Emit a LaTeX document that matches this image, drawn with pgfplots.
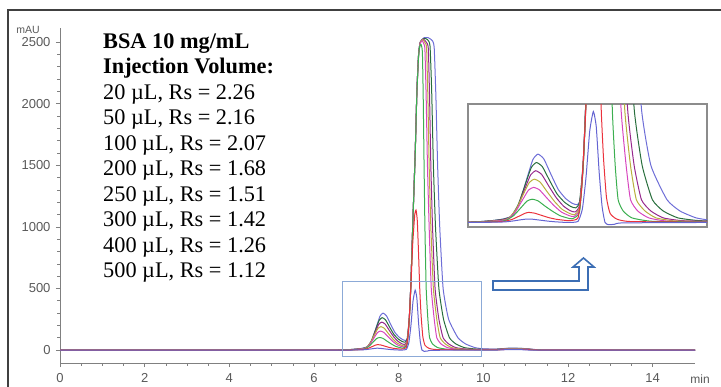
\documentclass[border=0pt]{standalone}
\usepackage{fontspec}
\setmainfont{Liberation Serif}
\newfontfamily\arial{Liberation Sans}
\usepackage{pgfplots}
\usepackage{pgfplotstable}
\pgfplotsset{compat=1.18}
\definecolor{c20}{RGB}{100,100,210}
\definecolor{c50}{RGB}{235,50,60}
\definecolor{c100}{RGB}{60,175,80}
\definecolor{c200}{RGB}{215,70,190}
\definecolor{c250}{RGB}{185,175,60}
\definecolor{c300}{RGB}{150,40,140}
\definecolor{c400}{RGB}{40,110,60}
\definecolor{c500}{RGB}{110,110,215}
\definecolor{boxblue}{RGB}{140,170,215}
\definecolor{arrowblue}{RGB}{60,110,180}

\pgfplotstableread{
x y
0 0
3 0
6.0 0
6.5 0
6.8 3
7.0 8
7.15 15
7.28 30
7.38 90
7.48 195
7.56 276
7.63 300
7.71 279
7.81 210
7.91 144
8.01 105
8.10 84
8.17 78
8.21 100
8.25 260
8.29 560
8.34 1100
8.39 1600
8.43 2100
8.47 2400
8.51 2500
8.60 2535
8.70 2535
8.80 2510
8.84 2450
8.88 2050
8.92 1500
8.97 1000
9.05 500
9.18 250
9.40 100
9.58 50
9.80 20
10.0 10
10.3 8
10.6 15
10.9 14
11.2 5
11.6 1
15 0
}\tfive

\pgfplotstableread{
x y
0 0
3 0
6.0 0
6.5 0
6.8 3
7.0 8
7.15 14
7.26 26
7.36 79
7.46 171
7.54 242
7.61 263
7.69 245
7.79 184
7.89 126
7.99 90
8.08 70
8.15 64
8.20 90
8.25 260
8.29 560
8.34 1100
8.39 1600
8.43 2100
8.47 2400
8.51 2500
8.60 2530
8.68 2520
8.74 2470
8.78 2100
8.82 1500
8.87 1000
8.95 500
9.06 250
9.20 100
9.35 50
9.55 20
9.8 9
10.0 6
10.3 6
10.6 14
10.9 13
11.2 4
11.6 1
15 0
}\tfour

\pgfplotstableread{
x y
0 0
3 0
6.0 0
6.5 0
6.8 2
7.0 7
7.15 12
7.25 23
7.35 68
7.45 148
7.53 209
7.60 227
7.68 211
7.78 159
7.88 109
7.98 72
8.07 52
8.14 46
8.20 75
8.25 250
8.29 555
8.34 1100
8.39 1600
8.43 2100
8.47 2400
8.51 2500
8.58 2525
8.65 2500
8.70 2450
8.73 2050
8.76 1500
8.80 1000
8.86 500
8.95 250
9.05 100
9.18 50
9.35 20
9.6 8
10.0 5
10.3 5
10.6 12
10.9 12
11.2 4
11.6 1
15 0
}\tthree

\pgfplotstableread{
x y
0 0
3 0
6.0 0
6.5 0
6.8 2
7.0 6
7.15 10
7.23 19
7.33 57
7.43 124
7.51 175
7.58 190
7.66 177
7.76 133
7.86 91
7.96 58
8.06 40
8.13 34
8.20 65
8.25 245
8.29 550
8.34 1090
8.39 1590
8.43 2090
8.47 2390
8.51 2495
8.57 2520
8.63 2490
8.66 2450
8.69 2050
8.72 1500
8.76 1000
8.82 500
8.90 250
8.98 100
9.10 50
9.25 20
9.5 7
10.0 4
10.3 4
10.6 11
10.9 11
11.2 3
11.6 1
15 0
}\ttwofifty

\pgfplotstableread{
x y
0 0
3 0
6.0 0
6.5 0
6.8 1
7.0 5
7.15 9
7.22 15
7.32 46
7.42 100
7.50 142
7.57 154
7.65 143
7.75 108
7.85 74
7.95 46
8.05 31
8.12 26
8.20 55
8.25 245
8.29 545
8.34 1085
8.39 1585
8.43 2085
8.47 2385
8.51 2490
8.56 2510
8.60 2480
8.62 2440
8.65 2050
8.68 1500
8.72 1000
8.77 500
8.84 250
8.90 100
9.00 50
9.15 20
9.4 6
10.0 3
10.3 3
10.6 10
10.9 10
11.2 3
11.6 1
15 0
}\ttwo

\pgfplotstableread{
x y
0 0
3 0
6.0 0
6.5 0
6.8 1
7.0 3
7.15 6
7.20 10
7.30 31
7.40 66
7.48 94
7.55 102
7.63 95
7.73 71
7.83 49
7.93 30
8.03 20
8.10 16
8.20 45
8.25 240
8.29 540
8.34 1080
8.39 1580
8.43 2080
8.47 2380
8.50 2470
8.53 2480
8.56 2420
8.58 2050
8.60 1500
8.62 1000
8.65 500
8.69 250
8.73 100
8.80 50
8.92 20
9.2 5
10.0 2
10.3 2
10.6 8
10.9 8
11.2 2
11.6 0
15 0
}\tone

\pgfplotstableread{
x y
0 0
3 0
6.0 0
6.5 0
6.8 0
7.0 2
7.15 4
7.18 5
7.28 14
7.38 29
7.45 40
7.50 44
7.58 41
7.68 31
7.78 21
7.88 14
7.98 10
8.06 8
8.18 20
8.23 150
8.28 450
8.33 850
8.38 1100
8.41 1136
8.44 1050
8.47 780
8.50 480
8.53 280
8.57 110
8.62 40
8.71 15
8.9 4
10.0 1
10.3 1
10.6 6
10.9 6
11.2 1
11.6 0
15 0
}\tfifty

\pgfplotstableread{
x y
0 0
3 0
6.0 0
6.5 0
6.8 0
7.0 1
7.15 2
7.20 3
7.30 7
7.40 12
7.48 15
7.56 14
7.66 10
7.76 6
7.86 3
7.96 1
8.06 0
8.18 5
8.24 60
8.29 200
8.34 400
8.39 487
8.43 420
8.47 220
8.51 70
8.55 0
8.60 -10
8.68 -8
8.8 -2
10.0 0
10.3 0
10.6 4
10.9 4
11.2 0
15 0
}\ttwenty

\newcommand{\alltraces}{%
\addplot[c500] table {\tfive};
\addplot[c400] table {\tfour};
\addplot[c300] table {\tthree};
\addplot[c250] table {\ttwofifty};
\addplot[c200] table {\ttwo};
\addplot[c100] table {\tone};
\addplot[c50] table {\tfifty};
\addplot[c20] table {\ttwenty};
}

\begin{document}
\begin{tikzpicture}
\path[use as bounding box] (0,0) rectangle (721bp,387bp);
\draw[black!75, line width=1.5bp] (8bp,0) -- (8bp,377bp) -- (721bp,377bp);
\begin{axis}[
  at={(60bp,24bp)}, anchor=south west, scale only axis,
  width=635bp, height=335bp,
  xmin=0, xmax=15, ymin=-105, ymax=2614,
  axis lines=left, axis line style={-, draw=black!50, line width=0.8bp},
  xtick={0,2,...,14}, ytick={0,500,...,2500},
  minor x tick num=3, minor y tick num=4,
  tick align=outside, major tick length=4bp, minor tick length=2.5bp,
  every tick/.style={draw=black!50, line width=0.6bp},
  tick label style={font=\arial\fontsize{13bp}{14bp}\selectfont, text=black!65},
  /pgf/number format/assume math mode=true,
  /pgf/number format/set thousands separator={},
  xticklabel style={yshift=-3bp},
  yticklabel style={xshift=-2bp},
  every axis plot/.append style={no marks, smooth, tension=0.3, line width=1bp},
]
\alltraces
\draw[boxblue, line width=0.9bp] (axis cs:6.67,-49) rectangle (axis cs:9.95,560);
\end{axis}
\begin{axis}[
  at={(468bp,160bp)}, anchor=south west, scale only axis,
  width=239bp, height=123bp,
  xmin=6.67, xmax=9.95, ymin=-20, ymax=520,
  ticks=none, axis line style={draw=black!45, line width=1.6bp},
  every axis plot/.append style={no marks, smooth, tension=0.3, line width=1bp},
]
\alltraces
\end{axis}
\draw[arrowblue, line width=1.6bp, fill=white, line join=miter]
  (493bp,106bp) -- (579bp,106bp) -- (579bp,120bp) -- (573bp,120bp) -- (583.5bp,129bp)
  -- (594bp,120bp) -- (588bp,120bp) -- (588bp,97bp) -- (493bp,97bp) -- cycle;
\node[font=\arial\fontsize{10.5bp}{11bp}\selectfont, text=black!65] at (28bp,357bp) {mAU};
\node[anchor=base, inner sep=0pt, font=\arial\fontsize{12bp}{13bp}\selectfont, text=black!65] at (700bp,4bp) {min};
\begin{scope}[every node/.style={anchor=base west, inner sep=0pt, font=\fontsize{22.3bp}{25bp}\selectfont}]
\node[font=\fontsize{22.3bp}{25bp}\selectfont\bfseries] at (103bp,338.7bp) {BSA 10 mg/mL};
\node[font=\fontsize{22.3bp}{25bp}\selectfont\bfseries] at (103bp,313.2bp) {Injection Volume:};
\node at (103bp,287.7bp) {20 µL, Rs = 2.26};
\node at (103bp,262.2bp) {50 µL, Rs = 2.16};
\node at (103bp,236.7bp) {100 µL, Rs = 2.07};
\node at (103bp,211.2bp) {200 µL, Rs = 1.68};
\node at (103bp,185.7bp) {250 µL, Rs = 1.51};
\node at (103bp,160.2bp) {300 µL, Rs = 1.42};
\node at (103bp,134.7bp) {400 µL, Rs = 1.26};
\node at (103bp,109.2bp) {500 µL, Rs = 1.12};
\end{scope}
\end{tikzpicture}
\end{document}
